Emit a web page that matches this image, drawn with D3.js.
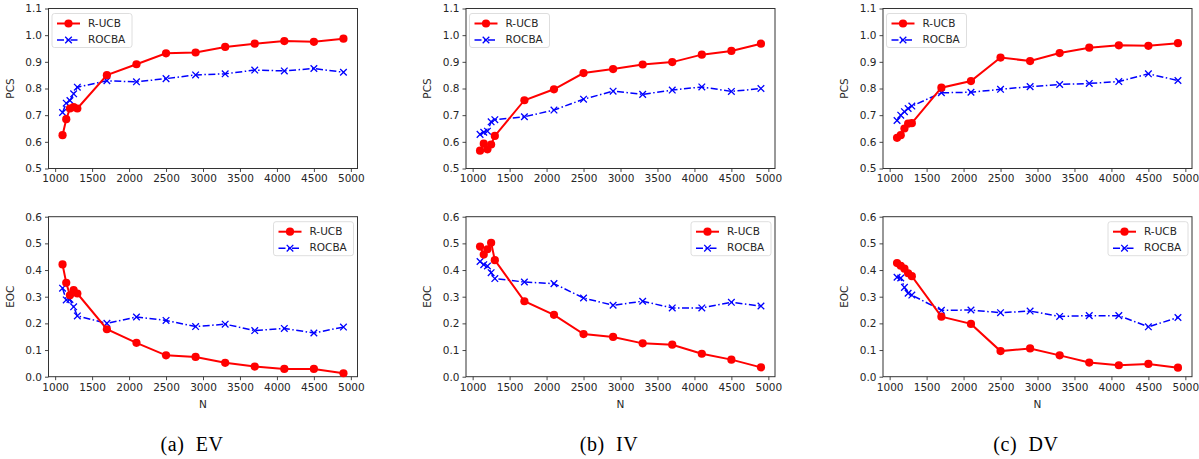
<!DOCTYPE html>
<html>
<head>
<meta charset="utf-8">
<script src="https://cdn.jsdelivr.net/npm/d3@7"></script>
<style>
  html, body { margin: 0; padding: 0; background: #fff; }
  svg { display: block; }
</style>
</head>
<body>
<svg id="chart" width="1199" height="459"></svg>
<script>
// ---------- DATA ----------
const N = [1100, 1150, 1200, 1250, 1300, 1700, 2100, 2500, 2900, 3300, 3700, 4100, 4500, 4900];
const seriesNames = ["R-UCB", "ROCBA"];
const captions = ["(a)\u00a0\u00a0EV", "(b)\u00a0\u00a0IV", "(c)\u00a0\u00a0DV"];
const xTicks = [1000, 1500, 2000, 2500, 3000, 3500, 4000, 4500, 5000];
const pcsTicks = [0.5, 0.6, 0.7, 0.8, 0.9, 1.0, 1.1];
const eocTicks = [0.0, 0.1, 0.2, 0.3, 0.4, 0.5, 0.6];

const pcsEV_RUCB  = [0.625, 0.685, 0.725, 0.730, 0.725, 0.850, 0.891, 0.932, 0.935, 0.956, 0.968, 0.978, 0.975, 0.987];
const pcsEV_ROCBA = [0.710, 0.745, 0.755, 0.780, 0.805, 0.829, 0.825, 0.837, 0.851, 0.855, 0.869, 0.866, 0.875, 0.861];
const eocEV_RUCB  = [0.421, 0.352, 0.305, 0.325, 0.312, 0.178, 0.127, 0.080, 0.074, 0.052, 0.038, 0.029, 0.029, 0.013];
const eocEV_ROCBA = [0.332, 0.288, 0.290, 0.262, 0.228, 0.200, 0.224, 0.211, 0.188, 0.197, 0.173, 0.181, 0.164, 0.186];

const pcsIV_RUCB  = [0.567, 0.593, 0.572, 0.590, 0.622, 0.756, 0.797, 0.858, 0.873, 0.890, 0.899, 0.927, 0.941, 0.968];
const pcsIV_ROCBA = [0.628, 0.636, 0.640, 0.675, 0.683, 0.694, 0.719, 0.760, 0.790, 0.778, 0.794, 0.806, 0.789, 0.800];
const eocIV_RUCB  = [0.488, 0.458, 0.478, 0.502, 0.437, 0.283, 0.232, 0.160, 0.149, 0.125, 0.120, 0.086, 0.064, 0.035];
const eocIV_ROCBA = [0.432, 0.420, 0.415, 0.390, 0.368, 0.355, 0.349, 0.295, 0.268, 0.283, 0.258, 0.258, 0.279, 0.265];

const pcsDV_RUCB  = [0.615, 0.625, 0.650, 0.668, 0.670, 0.803, 0.828, 0.916, 0.903, 0.933, 0.953, 0.962, 0.960, 0.970];
const pcsDV_ROCBA = [0.680, 0.700, 0.713, 0.725, 0.734, 0.784, 0.786, 0.797, 0.807, 0.815, 0.819, 0.826, 0.855, 0.830];
const eocDV_RUCB  = [0.426, 0.416, 0.405, 0.388, 0.377, 0.225, 0.198, 0.096, 0.106, 0.080, 0.053, 0.043, 0.048, 0.034];
const eocDV_ROCBA = [0.373, 0.370, 0.335, 0.313, 0.306, 0.249, 0.250, 0.240, 0.246, 0.226, 0.229, 0.229, 0.187, 0.222];

// ---------- LAYOUT ----------
const svg = d3.select("#chart");
const FONT = "DejaVu Sans, sans-serif";
const TXT = "#262626";
const panelLefts = [48.5, 466, 883];
const panelW = 309;
const rowTops = [8.5, 216.7];
const panelH = 160;
const red = "#ff0000", blue = "#0000ff";

const panels = [
  {col: 0, row: 0, a: pcsEV_RUCB, b: pcsEV_ROCBA},
  {col: 0, row: 1, a: eocEV_RUCB, b: eocEV_ROCBA},
  {col: 1, row: 0, a: pcsIV_RUCB, b: pcsIV_ROCBA},
  {col: 1, row: 1, a: eocIV_RUCB, b: eocIV_ROCBA},
  {col: 2, row: 0, a: pcsDV_RUCB, b: pcsDV_ROCBA},
  {col: 2, row: 1, a: eocDV_RUCB, b: eocDV_ROCBA},
];

panels.forEach(p => {
  const left = panelLefts[p.col], top = rowTops[p.row];
  const g = svg.append("g").attr("transform", `translate(${left},${top})`);
  const x = d3.scaleLinear().domain([910, 5090]).range([0, panelW]);
  const isPCS = p.row === 0;
  const y = d3.scaleLinear().domain(isPCS ? [0.5, 1.1] : [0.0, 0.6]).range([panelH, 0]);

  // axes
  const xAxis = g.append("g").attr("transform", `translate(0,${panelH})`)
    .call(d3.axisBottom(x).tickValues(xTicks).tickFormat(d3.format("d")).tickSize(3.5).tickPadding(3));
  const yAxis = g.append("g")
    .call(d3.axisLeft(y).tickValues(isPCS ? pcsTicks : eocTicks).tickFormat(d3.format(".1f")).tickSize(3.5).tickPadding(3));
  [xAxis, yAxis].forEach(ax => {
    ax.select(".domain").remove();
    ax.selectAll(".tick line").attr("stroke", "#333").attr("stroke-width", 0.9);
    ax.selectAll(".tick text").attr("fill", TXT).style("font-family", FONT).style("font-size", "10.5px");
  });

  // frame
  g.append("rect").attr("x", 0).attr("y", 0).attr("width", panelW).attr("height", panelH)
    .attr("fill", "none").attr("stroke", "#333").attr("stroke-width", 1);

  // y label
  g.append("text").attr("transform", `translate(-38,${panelH / 2}) rotate(-90)`)
    .attr("text-anchor", "middle").attr("dominant-baseline", "middle")
    .attr("fill", TXT).style("font-family", FONT).style("font-size", "10.5px")
    .text(isPCS ? "PCS" : "EOC");
  if (!isPCS) {
    g.append("text").attr("x", panelW / 2).attr("y", panelH + 28.5)
      .attr("text-anchor", "middle").attr("dominant-baseline", "middle")
      .attr("fill", TXT).style("font-family", FONT).style("font-size", "10.5px")
      .text("N");
  }

  const line = d3.line().x((d, i) => x(N[i])).y(d => y(d));
  // ROCBA
  g.append("path").datum(p.b).attr("d", line).attr("fill", "none")
    .attr("stroke", blue).attr("stroke-width", 1.5).attr("stroke-dasharray", "7,2.5,1.5,2.5");
  g.selectAll(".xm").data(p.b).enter().append("path")
    .attr("transform", (d, i) => `translate(${x(N[i])},${y(d)})`)
    .attr("d", "M-3.3,-3.3L3.3,3.3M-3.3,3.3L3.3,-3.3")
    .attr("stroke", blue).attr("stroke-width", 1.3).attr("fill", "none");
  // R-UCB
  g.append("path").datum(p.a).attr("d", line).attr("fill", "none")
    .attr("stroke", red).attr("stroke-width", 2);
  g.selectAll(".cm").data(p.a).enter().append("circle")
    .attr("cx", (d, i) => x(N[i])).attr("cy", d => y(d)).attr("r", 4.1)
    .attr("fill", red);

  // legend
  const lw = 80, lh = 34;
  const lx = isPCS ? 3.5 : panelW - lw - 4;
  const ly = 5;
  const lg = g.append("g").attr("transform", `translate(${lx},${ly})`);
  lg.append("rect").attr("width", lw).attr("height", lh).attr("rx", 2.5)
    .attr("fill", "#fff").attr("fill-opacity", 0.8).attr("stroke", "#d6d6d6").attr("stroke-width", 0.8);
  seriesNames.forEach((name, k) => {
    const yy = 10 + k * 16.5;
    if (k === 0) {
      lg.append("line").attr("x1", 5).attr("x2", 28).attr("y1", yy).attr("y2", yy)
        .attr("stroke", red).attr("stroke-width", 2);
      lg.append("circle").attr("cx", 16.5).attr("cy", yy).attr("r", 4.1).attr("fill", red);
    } else {
      lg.append("line").attr("x1", 5).attr("x2", 28).attr("y1", yy).attr("y2", yy)
        .attr("stroke", blue).attr("stroke-width", 1.5).attr("stroke-dasharray", "7,2.5,1.5,2.5");
      lg.append("path").attr("transform", `translate(16.5,${yy})`)
        .attr("d", "M-3.3,-3.3L3.3,3.3M-3.3,3.3L3.3,-3.3")
        .attr("stroke", blue).attr("stroke-width", 1.3);
    }
    lg.append("text").attr("x", 36).attr("y", yy).attr("dominant-baseline", "middle")
      .attr("fill", TXT).style("font-family", FONT).style("font-size", "10.5px").text(name);
  });
});

// captions
const captionX = [192, 609, 1026];
captions.forEach((c, i) => {
  svg.append("text").attr("x", captionX[i]).attr("y", 451).attr("text-anchor", "middle")
    .attr("fill", "#000").style("font-family", "Liberation Serif, Times New Roman, serif")
    .style("font-size", "20px").style("letter-spacing", "0.6px").text(c);
});
</script>
</body>
</html>
